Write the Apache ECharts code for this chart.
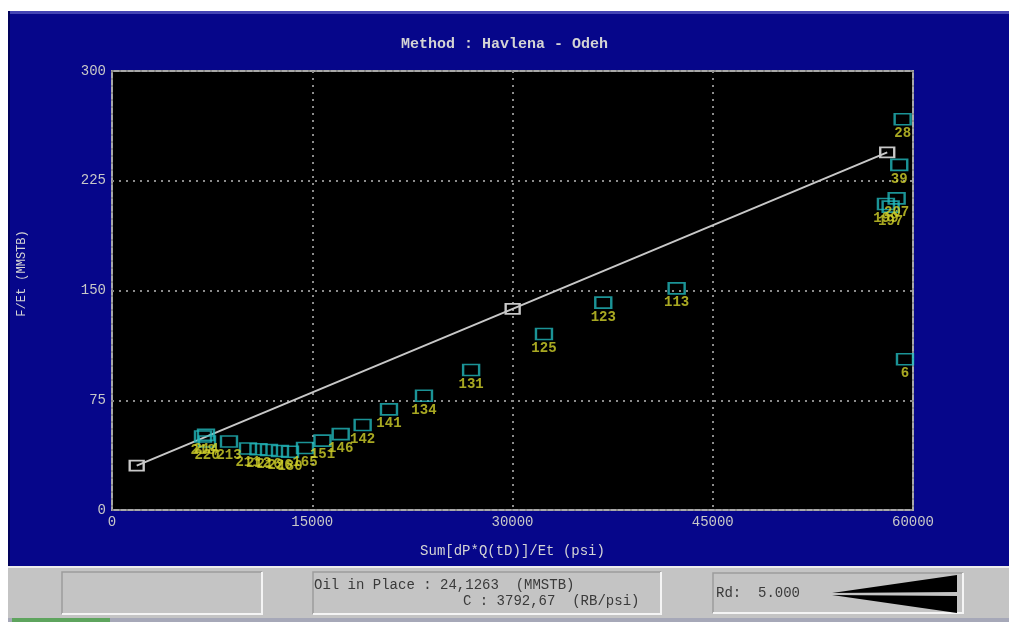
<!DOCTYPE html>
<html>
<head>
<meta charset="utf-8">
<script src="https://cdn.jsdelivr.net/npm/echarts@6/dist/echarts.min.js"></script>
<style>
  html, body { margin: 0; padding: 0; background: #fff; }
  #chart { width: 1009px; height: 622px; }
</style>
</head>
<body>
<div id="chart"></div>
<script>
// points (x = Sum[dP*Q(tD)]/Et, y = F/Et)
const pointX = [6816, 7041, 7116, 8763, 10186, 10973, 11759, 12583, 13332, 14456,
  15767, 17130, 18775, 20747, 23369, 26900, 32357, 36800, 42296,
  57973, 58325, 58774, 58970, 59224, 59400]
const pointY = [50.2, 51.3, 46.8, 46.8, 42.0, 41.5, 41.0, 40.3, 39.8, 42.4,
  47.4, 51.9, 58.1, 68.8, 78.1, 95.7, 120.3, 141.7, 151.5,
  209.1, 207.3, 213.0, 235.8, 267.0, 103.0]
const pointLabels = ['218', '214', '220', '213', '211', '212', '216', '226', '180', '165',
  '151', '146', '142', '141', '134', '131', '125', '123', '113',
  '199', '197', '207', '39', '28', '6']

// fitted straight line (three marked points)
const fitX = [1850, 30012, 58070]
const fitY = [30.3, 137.4, 244.4]

const xMin = 0, xMax = 60000, xStep = 15000
const yMin = 0, yMax = 300, yStep = 75

const mono = 'Liberation Mono'

const chart = echarts.init(document.getElementById('chart'))

// little helper for the sunken boxes of the bottom panel
function box(x, y, w, h) {
  return [
    { type: 'rect', shape: { x: x, y: y, width: w, height: h }, style: { fill: '#c4c4c4' } },
    { type: 'polyline', shape: { points: [[x, y + h], [x, y], [x + w, y]] }, style: { stroke: '#9c9c9c', lineWidth: 1.5, fill: null } },
    { type: 'polyline', shape: { points: [[x + w, y], [x + w, y + h], [x, y + h]] }, style: { stroke: '#f4f4f4', lineWidth: 2, fill: null } }
  ]
}

const option = {
  animation: false,
  backgroundColor: '#06068a',
  title: {
    text: 'Method : Havlena - Odeh',
    left: 'center',
    top: 32,
    textStyle: { color: '#d4d4d4', fontFamily: mono, fontSize: 15, fontWeight: 'bold' }
  },
  grid: {
    left: 112, right: 96, top: 71, bottom: 112,
    show: true,
    backgroundColor: '#000',
    borderColor: '#a8a8a8',
    borderWidth: 2
  },
  xAxis: {
    type: 'value',
    min: xMin, max: xMax, interval: xStep,
    name: 'Sum[dP*Q(tD)]/Et (psi)',
    nameLocation: 'middle',
    nameGap: 34,
    nameTextStyle: { color: '#d4d4d4', fontFamily: mono, fontSize: 14 },
    axisLine: { show: false },
    axisTick: { show: false },
    axisLabel: { color: '#c8c8c8', fontFamily: mono, fontSize: 14, margin: 5, formatter: v => String(v) },
    splitLine: { show: true, lineStyle: { color: '#8c8c8c', width: 2, type: [2, 5] } }
  },
  yAxis: {
    type: 'value',
    min: yMin, max: yMax, interval: yStep,
    name: 'F/Et (MMSTB)',
    nameLocation: 'middle',
    nameGap: 84,
    nameTextStyle: { color: '#d4d4d4', fontFamily: mono, fontSize: 12, padding: [0, 0, 0, 34] },
    axisLine: { show: false },
    axisTick: { show: false },
    axisLabel: { color: '#c8c8c8', fontFamily: mono, fontSize: 14, margin: 6, formatter: v => String(v) },
    splitLine: { show: true, lineStyle: { color: '#8c8c8c', width: 2, type: [2, 5] } }
  },
  series: [
    {
      name: 'fit',
      type: 'line',
      data: fitX.map((x, i) => [x, fitY[i]]),
      symbol: 'rect',
      symbolSize: [14, 10],
      showSymbol: true,
      lineStyle: { color: '#c8c8c8', width: 2 },
      itemStyle: { color: 'rgba(0,0,0,0)', borderColor: '#c8c8c8', borderWidth: 2 },
      z: 3
    },
    {
      name: 'points',
      type: 'scatter',
      data: pointX.map((x, i) => ({ value: [x, pointY[i]], name: pointLabels[i] })),
      symbol: 'rect',
      symbolSize: [16, 11],
      itemStyle: { color: 'rgba(0,0,0,0)', borderColor: '#22b8bc', borderWidth: 2 },
      label: {
        show: true,
        position: 'bottom',
        distance: 1,
        formatter: p => p.name,
        color: '#d2d22a',
        fontFamily: mono,
        fontSize: 14,
        fontWeight: 'bold'
      },
      z: 4
    }
  ],
  graphic: [
    // white margins of the screenshot
    { type: 'rect', shape: { x: 0, y: 0, width: 1009, height: 11 }, style: { fill: '#fff' } },
    { type: 'rect', shape: { x: 0, y: 0, width: 8, height: 622 }, style: { fill: '#fff' } },
    { type: 'rect', shape: { x: 8, y: 11, width: 1001, height: 3 }, style: { fill: '#4444b4' } },
    { type: 'rect', shape: { x: 8, y: 11, width: 2, height: 555 }, style: { fill: '#02025c' } },
    // bottom grey panel
    { type: 'rect', shape: { x: 8, y: 566, width: 1001, height: 56 }, style: { fill: '#c4c4c4' } },
    { type: 'rect', shape: { x: 8, y: 566, width: 1001, height: 2 }, style: { fill: '#ececec' } },
    { type: 'rect', shape: { x: 8, y: 618, width: 1001, height: 4 }, style: { fill: '#a6a8b8' } },
    { type: 'rect', shape: { x: 12, y: 618, width: 98, height: 4 }, style: { fill: '#5ea45e' } },
    ...box(62, 572, 200, 42),
    ...box(313, 572, 348, 42),
    ...box(713, 573, 250, 40),
    { type: 'text', left: 314, top: 578, style: { text: 'Oil in Place : 24,1263  (MMSTB)', fill: '#3a3a3a', font: '14px "Liberation Mono"' } },
    { type: 'text', left: 463, top: 594, style: { text: 'C : 3792,67  (RB/psi)', fill: '#3a3a3a', font: '14px "Liberation Mono"' } },
    { type: 'text', left: 716, top: 586, style: { text: 'Rd:  5.000', fill: '#3a3a3a', font: '14px "Liberation Mono"' } },
    { type: 'polygon', shape: { points: [[832, 593], [957, 575], [957, 592]] }, style: { fill: '#000' } },
    { type: 'polygon', shape: { points: [[832, 595], [957, 596], [957, 613]] }, style: { fill: '#000' } }
  ]
}

chart.setOption(option)
window.addEventListener('resize', () => {
  chart.resize()
})
</script>
</body>
</html>
